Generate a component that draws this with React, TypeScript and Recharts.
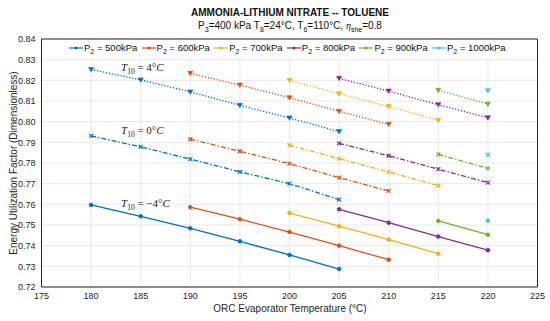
import React from 'react'
import { LineChart, Line, CartesianGrid, XAxis, YAxis, Legend, ReferenceLine } from 'recharts'

// evaporator temperatures used for each P2 level
const tempsP500 = [180, 185, 190, 195, 200, 205]
const tempsP600 = [190, 195, 200, 205, 210]
const tempsP700 = [200, 205, 210, 215]
const tempsP800 = [205, 210, 215, 220]
const tempsP900 = [215, 220]
const tempsP1000 = [220]

// T10 = -4 C (solid)
const eufLow500 = [0.7597, 0.7542, 0.7484, 0.7421, 0.7355, 0.7287]
const eufLow600 = [0.7586, 0.7528, 0.7466, 0.74, 0.7332]
const eufLow700 = [0.7558, 0.7494, 0.7429, 0.7361]
const eufLow800 = [0.7576, 0.7511, 0.7444, 0.7378]
const eufLow900 = [0.752, 0.7453]
const eufLow1000 = [0.7521]

// T10 = 0 C (dash-dot)
const eufMid500 = [0.7931, 0.7878, 0.7819, 0.7757, 0.77, 0.7623]
const eufMid600 = [0.7915, 0.7857, 0.7797, 0.7729, 0.7665]
const eufMid700 = [0.7886, 0.7821, 0.7757, 0.769]
const eufMid800 = [0.7895, 0.7835, 0.777, 0.7705]
const eufMid900 = [0.7842, 0.7774]
const eufMid1000 = [0.784]

// T10 = 4 C (dotted)
const eufHigh500 = [0.8253, 0.8202, 0.8144, 0.8079, 0.8018, 0.7952]
const eufHigh600 = [0.8234, 0.8177, 0.8116, 0.805, 0.7987]
const eufHigh700 = [0.82, 0.8135, 0.8073, 0.8007]
const eufHigh800 = [0.821, 0.8148, 0.8082, 0.8019]
const eufHigh900 = [0.8152, 0.8085]
const eufHigh1000 = [0.815]

const pressures = ['500', '600', '700', '800', '900', '1000']
const colors = ['#0072BD', '#D95319', '#EDB120', '#7E2F8E', '#77AC30', '#4DBEEE']

const xTicks = [175, 180, 185, 190, 195, 200, 205, 210, 215, 220, 225]
const yTicks = [0.72, 0.73, 0.74, 0.75, 0.76, 0.77, 0.78, 0.79, 0.8, 0.81, 0.82, 0.83, 0.84]

const temps = [tempsP500, tempsP600, tempsP700, tempsP800, tempsP900, tempsP1000]
const lowSets = [eufLow500, eufLow600, eufLow700, eufLow800, eufLow900, eufLow1000]
const midSets = [eufMid500, eufMid600, eufMid700, eufMid800, eufMid900, eufMid1000]
const highSets = [eufHigh500, eufHigh600, eufHigh700, eufHigh800, eufHigh900, eufHigh1000]

const zip = (xs: number[], ys: number[]) => xs.map((x, i) => ({ x, y: ys[i] }))

const font = '"Liberation Sans", Arial, sans-serif'
const serif = '"Liberation Serif", "DejaVu Serif", serif'

const makeDot = (kind: string, color: string) => (p: any) => {
  const { cx, cy, index } = p
  const k = `${kind}-${index}-${cx}`
  if (cx == null || cy == null) return <g key={k} />
  if (kind === 'tri') {
    return <path key={k} d={`M${cx - 2.6},${cy - 2} L${cx + 2.6},${cy - 2} L${cx},${cy + 2.4} Z`} fill={color} stroke={color} strokeWidth={0.6} />
  }
  if (kind === 'x') {
    return <path key={k} d={`M${cx - 2},${cy - 2} L${cx + 2},${cy + 2} M${cx - 2},${cy + 2} L${cx + 2},${cy - 2}`} stroke={color} strokeWidth={1.2} />
  }
  return <circle key={k} cx={cx} cy={cy} r={1.8} fill={color} stroke={color} />
}

const LegendBox = () => (
  <div style={{ width: 495, height: 18, background: '#fff', fontFamily: font, fontSize: 9.5, color: '#111', position: 'relative' }}>
    {pressures.map((p, i) => (
      <div key={p} style={{ position: 'absolute', left: 27 + i * 72.6, top: 2, display: 'flex', alignItems: 'center', whiteSpace: 'nowrap' }}>
        <svg width={14} height={10} style={{ marginRight: 1 }}>
          <line x1={0} y1={5} x2={14} y2={5} stroke={colors[i]} strokeWidth={1.2} />
          <circle cx={7} cy={5} r={1.6} fill={colors[i]} />
        </svg>
        <span>
          P<sub style={{ fontSize: 7 }}>2</sub> = {p}kPa
        </span>
      </div>
    ))}
  </div>
)

const T10Label = ({ x, y, val }: { x: number; y: number; val: string }) => (
  <text x={x} y={y} fontFamily={serif} fontSize={11} fill="#222">
    <tspan fontStyle="italic">T</tspan>
    <tspan fontSize={7.5} dy={2.5}>10</tspan>
    <tspan dy={-2.5}> = {val}°</tspan>
    <tspan fontStyle="italic">C</tspan>
  </text>
)

export default function App() {
  return (
    <div style={{ position: 'absolute', left: 0, top: 0 }}>
      <LineChart width={550} height={321} margin={{ top: 39, right: 12.5, bottom: 14, left: 5.5 }}>
        <CartesianGrid stroke="#e3e3e3" strokeWidth={0.8} />
        <XAxis
          type="number"
          dataKey="x"
          domain={[175, 225]}
          ticks={xTicks}
          interval={0}
          allowDuplicatedCategory={false}
          height={20}
          tickSize={4}
          tickMargin={2}
          tickLine={false}
          stroke="#262626"
          tick={{ fontSize: 9, fontFamily: font, fill: '#262626' }}
        />
        <YAxis
          type="number"
          domain={[0.72, 0.84]}
          ticks={yTicks}
          interval={0}
          width={36}
          tickSize={4}
          tickMargin={2}
          tickLine={false}
          stroke="#262626"
          tickFormatter={(v: number) => v.toFixed(2)}
          tick={{ fontSize: 9, fontFamily: font, fill: '#262626' }}
        />
        <ReferenceLine y={0.84} stroke="#262626" strokeWidth={1} />
        <ReferenceLine x={225} stroke="#262626" strokeWidth={1} />
        <Legend
          layout="horizontal"
          verticalAlign="middle"
          align="center"
          wrapperStyle={{ top: 39.5, left: 42, width: 495, height: 18 }}
          content={() => <LegendBox />}
        />
        {temps.map((t, i) => (
          <Line
            key={`low-${i}`}
            data={zip(t, lowSets[i])}
            dataKey="y"
            type="linear"
            stroke={colors[i]}
            strokeWidth={1.3}
            dot={makeDot('o', colors[i])}
            isAnimationActive={false}
            legendType="none"
          />
        ))}
        {temps.map((t, i) => (
          <Line
            key={`mid-${i}`}
            data={zip(t, midSets[i])}
            dataKey="y"
            type="linear"
            stroke={colors[i]}
            strokeWidth={1.3}
            strokeDasharray="5 2 1.5 2"
            dot={makeDot('x', colors[i])}
            isAnimationActive={false}
            legendType="none"
          />
        ))}
        {temps.map((t, i) => (
          <Line
            key={`high-${i}`}
            data={zip(t, highSets[i])}
            dataKey="y"
            type="linear"
            stroke={colors[i]}
            strokeWidth={1.3}
            strokeDasharray="1.3 1.7"
            dot={makeDot('tri', colors[i])}
            isAnimationActive={false}
            legendType="none"
          />
        ))}
        <T10Label x={121} y={71} val="4" />
        <T10Label x={121} y={134} val="0" />
        <T10Label x={121} y={207} val="−4" />
        <text x={290} y={16} textAnchor="middle" fontFamily={font} fontSize={10} fontWeight="bold" fill="#111">
          AMMONIA-LITHIUM NITRATE -- TOLUENE
        </text>
        <text x={290} y={29} textAnchor="middle" fontFamily={font} fontSize={10} fill="#111">
          <tspan>P</tspan>
          <tspan fontSize={7} dy={2.5}>3</tspan>
          <tspan dy={-2.5}>=400 kPa T</tspan>
          <tspan fontSize={7} dy={2.5}>8</tspan>
          <tspan dy={-2.5}>=24°C, T</tspan>
          <tspan fontSize={7} dy={2.5}>6</tspan>
          <tspan dy={-2.5}>=110°C, </tspan>
          <tspan fontFamily={serif} fontStyle="italic">η</tspan>
          <tspan fontSize={7} dy={2.5}>she</tspan>
          <tspan dy={-2.5}>=0.8</tspan>
        </text>
        <text x={290} y={312} textAnchor="middle" fontFamily={font} fontSize={10} fill="#262626">
          ORC Evaporator Temperature (°C)
        </text>
        <text
          x={14}
          y={163}
          textAnchor="middle"
          fontFamily={font}
          fontSize={10}
          fill="#262626"
          transform="rotate(-90 14 163)"
          dominantBaseline="middle"
        >
          Energy Utilization Factor (Dimensionless)
        </text>
      </LineChart>
    </div>
  )
}
